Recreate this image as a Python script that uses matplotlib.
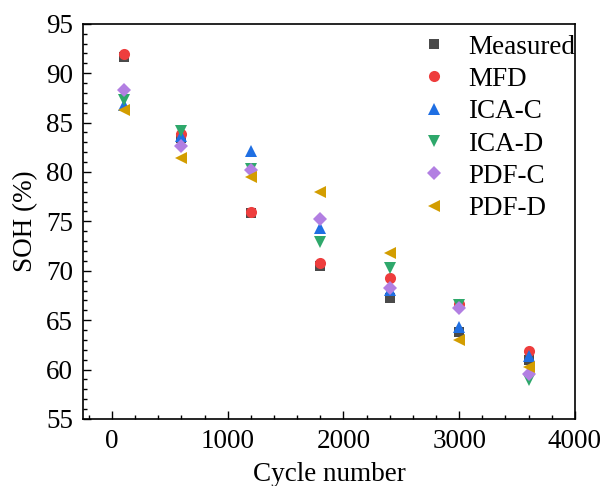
import numpy as np
import matplotlib.pyplot as plt
from matplotlib.ticker import MultipleLocator

plt.rcParams['font.family'] = ['Liberation Serif', 'DejaVu Serif']
plt.rcParams['mathtext.fontset'] = 'stix'

cycles = [100, 600, 1200, 1800, 2400, 3000, 3600]

measured = [91.6, 83.4, 75.8, 70.5, 67.2, 63.8, 61.0]
mfd = [91.9, 83.8, 75.9, 70.8, 69.3, 66.6, 61.9]
ica_c = [86.8, 83.6, 82.1, 74.3, 68.1, 64.3, 61.4]
ica_d = [87.3, 84.1, 80.3, 72.9, 70.3, 66.5, 58.9]
pdf_c = [88.3, 82.6, 80.2, 75.2, 68.3, 66.2, 59.5]
pdf_d = [86.3, 81.4, 79.5, 78.0, 71.8, 63.0, 60.3]

series = [
    ("Measured", measured, "s", "#4a4a4a"),
    ("MFD", mfd, "o", "#ee3d3d"),
    ("ICA-C", ica_c, "^", "#1f6fe3"),
    ("ICA-D", ica_d, "v", "#2ea86b"),
    ("PDF-C", pdf_c, "D", "#b27fe2"),
    ("PDF-D", pdf_d, "<", "#d39d00"),
]

fs = 19.5
fig = plt.figure(figsize=(6.02, 4.86), dpi=100)
ax = fig.add_axes([0.138, 0.138, 0.817, 0.813])

sizes = {"s": 7.5, "o": 8, "^": 8.5, "v": 8.5, "D": 7, "<": 8.5}
for name, vals, mk, col in series:
    ax.plot(cycles, vals, linestyle="none", marker=mk, color=col,
            markersize=sizes[mk], markeredgewidth=0, label=name)

ax.set_xlim(-250, 4000)
ax.set_ylim(55, 95)
ax.xaxis.set_major_locator(MultipleLocator(1000))
ax.xaxis.set_minor_locator(MultipleLocator(200))
ax.yaxis.set_major_locator(MultipleLocator(5))
ax.yaxis.set_minor_locator(MultipleLocator(1))
ax.tick_params(which="both", direction="in", top=False, right=False, labelsize=fs)
ax.tick_params(which="major", length=6, width=1, pad=7)
ax.tick_params(which="minor", length=3, width=1)
for s in ax.spines.values():
    s.set_linewidth(1.2)

ax.set_xlabel("Cycle number", fontsize=fs, labelpad=6)
ax.set_ylabel("SOH (%)", fontsize=fs, labelpad=6)

ax.legend(loc="upper right", frameon=False, fontsize=fs, labelspacing=0.27,
          handletextpad=0.65, borderaxespad=0.0, handlelength=1.2,
          bbox_to_anchor=(1.022, 1.0))

fig.savefig("out.png", dpi=100)
